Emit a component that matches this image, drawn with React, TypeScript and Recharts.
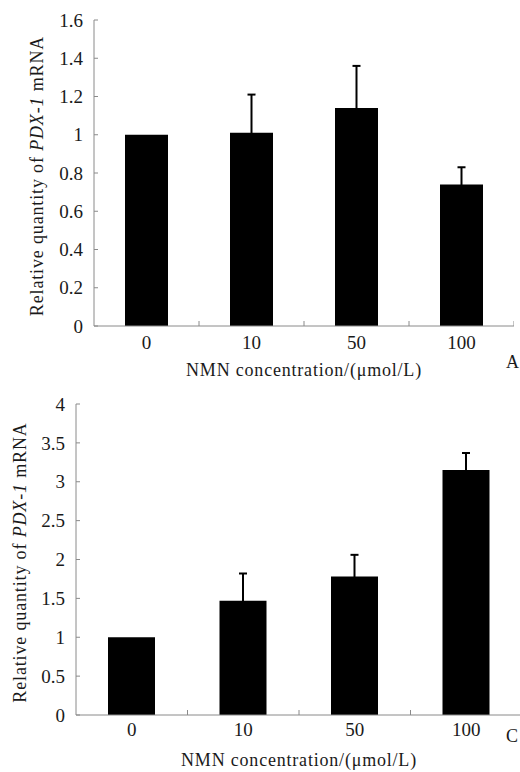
import { BarChart, Bar, XAxis, YAxis, ErrorBar, Label } from 'recharts';

// NMN concentration groups (µmol/L)
const CATEGORIES = ['0', '10', '50', '100'];

// panel A
const MEANS_A = [1.0, 1.01, 1.14, 0.74];
const ERRORS_A = [0, 0.2, 0.22, 0.09];
const TICKS_A = [0, 0.2, 0.4, 0.6, 0.8, 1, 1.2, 1.4, 1.6];

// panel C
const MEANS_C = [1.0, 1.47, 1.78, 3.15];
const ERRORS_C = [0, 0.35, 0.28, 0.22];
const TICKS_C = [0, 0.5, 1, 1.5, 2, 2.5, 3, 3.5, 4];

const FONT = '"Liberation Serif", "Times New Roman", serif';
const AXIS = '#8a8a8a';
const TEXT = '#1a1a1a';

const dataA = CATEGORIES.map((c, i) => ({ group: c, value: MEANS_A[i], err: ERRORS_A[i] }));
const dataC = CATEGORIES.map((c, i) => ({ group: c, value: MEANS_C[i], err: ERRORS_C[i] }));

// x ticks: label at the category centre, small inward tick at the right boundary
const XTick = (props: any) => {
    const { x, y, payload, band, labelDy } = props;
    const edge = x + band / 2;
    return (
        <g>
            <line x1={edge} y1={y} x2={edge} y2={y - 5} stroke={AXIS} strokeWidth={1} />
            <text x={x} y={y + labelDy} textAnchor="middle" fontFamily={FONT} fontSize={19} fill={TEXT}>
                {payload.value}
            </text>
        </g>
    );
};

const YTick = (props: any) => {
    const { x, y, payload } = props;
    return (
        <g>
            <line x1={x} y1={y} x2={x + 4} y2={y} stroke={AXIS} strokeWidth={1} />
            <text x={x - 11} y={y} dy="0.35em" textAnchor="end" fontFamily={FONT} fontSize={19} fill={TEXT}>
                {payload.value}
            </text>
        </g>
    );
};

const YTitle = (props: any) => {
    const { viewBox, cx } = props;
    const tx = viewBox.x + cx;
    const ty = viewBox.y + viewBox.height / 2 + 3;
    return (
        <text
            x={tx}
            y={ty}
            transform={`rotate(-90 ${tx} ${ty})`}
            textAnchor="middle"
            dominantBaseline="central"
            fontFamily={FONT}
            fontSize={18}
            letterSpacing={0.85}
            fill={TEXT}
        >
            Relative quantity of <tspan fontStyle="italic">PDX-1</tspan> mRNA
        </text>
    );
};

const XTitle = (props: any) => {
    const { viewBox, dy } = props;
    return (
        <text
            x={viewBox.x + viewBox.width / 2}
            y={viewBox.y + dy}
            textAnchor="middle"
            fontFamily={FONT}
            fontSize={18}
            letterSpacing={0.8}
            fill={TEXT}
        >
            NMN concentration/(μmol/L)
        </text>
    );
};

interface PanelProps {
    data: Array<Record<string, any>>;
    ticks: number[];
    width: number;
    height: number;
    top: number;
    yAxisWidth: number;
    xAxisHeight: number;
    barSize: number;
    tickDy: number;
    titleDy: number;
    yTitleX: number;
    band: number;
}

function Panel(p: PanelProps) {
    return (
        <BarChart
            width={p.width}
            height={p.height}
            data={p.data}
            margin={{ top: p.top, right: 0, bottom: 0, left: 0 }}
        >
            <XAxis
                dataKey="group"
                height={p.xAxisHeight}
                stroke={AXIS}
                tickLine={false}
                tickSize={0}
                tickMargin={0}
                interval={0}
                tick={(t: any) => <XTick {...t} band={p.band} labelDy={p.tickDy} />}
            >
                <Label content={(l: any) => <XTitle {...l} dy={p.titleDy} />} />
            </XAxis>
            <YAxis
                width={p.yAxisWidth}
                domain={[p.ticks[0], p.ticks[p.ticks.length - 1]]}
                ticks={p.ticks}
                stroke={AXIS}
                tickLine={false}
                tickSize={0}
                tickMargin={0}
                interval={0}
                tick={(t: any) => <YTick {...t} />}
            >
                <Label content={(l: any) => <YTitle {...l} cx={p.yTitleX} />} />
            </YAxis>
            <Bar dataKey="value" fill="#000" barSize={p.barSize} isAnimationActive={false}>
                <ErrorBar dataKey="err" direction="y" width={4} stroke="#000" strokeWidth={2} isAnimationActive={false} />
            </Bar>
        </BarChart>
    );
}

const letterStyle: React.CSSProperties = {
    position: 'absolute',
    fontFamily: FONT,
    fontSize: 18,
    color: TEXT,
    lineHeight: 1,
};

export default function App() {
    return (
        <div style={{ position: 'absolute', left: 0, top: 0, width: 520, height: 772, overflow: 'hidden', background: '#fff' }}>
            <div style={{ position: 'absolute', left: 0, top: 0 }}>
                <Panel
                    data={dataA}
                    ticks={TICKS_A}
                    width={514}
                    height={385}
                    top={20}
                    yAxisWidth={94}
                    xAxisHeight={59}
                    barSize={43}
                    tickDy={23}
                    titleDy={50}
                    yTitleX={37}
                    band={105}
                />
            </div>
            <div style={{ position: 'absolute', left: 0, top: 390 }}>
                <Panel
                    data={dataC}
                    ticks={TICKS_C}
                    width={522}
                    height={382}
                    top={14}
                    yAxisWidth={76}
                    xAxisHeight={57}
                    barSize={47}
                    tickDy={21}
                    titleDy={51}
                    yTitleX={20}
                    band={111.5}
                />
            </div>
            <div style={{ ...letterStyle, left: 506, top: 353 }}>A</div>
            <div style={{ ...letterStyle, left: 506, top: 727 }}>C</div>
        </div>
    );
}
